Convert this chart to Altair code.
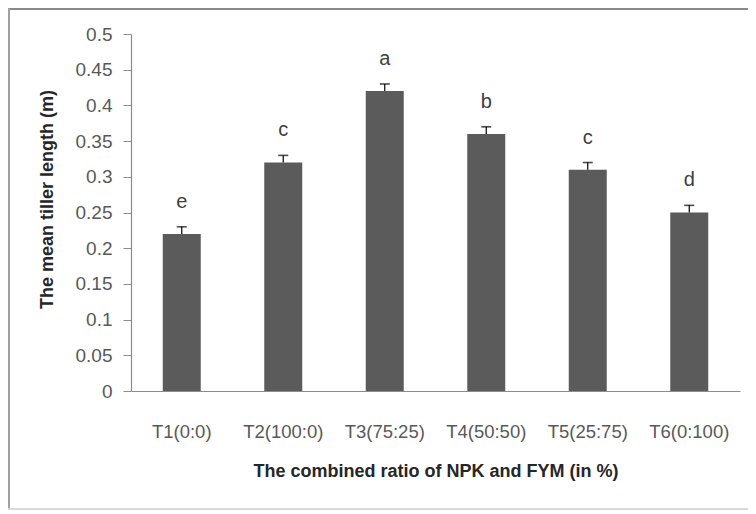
import altair as alt
import pandas as pd

categories = ["T1(0:0)", "T2(100:0)", "T3(75:25)", "T4(50:50)", "T5(25:75)", "T6(0:100)"]
values = [0.22, 0.32, 0.42, 0.36, 0.31, 0.25]
errors = [0.01, 0.01, 0.01, 0.01, 0.01, 0.01]
letters = ["e", "c", "a", "b", "c", "d"]
y_ticks = [0, 0.05, 0.1, 0.15, 0.2, 0.25, 0.3, 0.35, 0.4, 0.45, 0.5]

df = pd.DataFrame({"cat": categories, "val": values, "err": errors, "letter": letters})
df["upper"] = df["val"] + df["err"]

W, H = 609, 357
PL, PT, PR, PB = 123, 26, 8, 119
FONT = "Liberation Sans"

x_axis = alt.Axis(title="The combined ratio of NPK and FYM (in %)", ticks=False,
                  labelAngle=0, labelPadding=31, labelFontSize=18.5, labelColor="#595959",
                  labelFont=FONT, domainColor="#8c8c8c", domainWidth=1.2,
                  titleFont=FONT, titleFontSize=18, titleFontWeight="bold",
                  titleColor="#262626", titlePadding=22)
x_scale = alt.Scale(paddingInner=0.625, paddingOuter=0.3125)
y_axis = alt.Axis(title="The mean tiller length (m)", values=y_ticks,
                  format="~g", labelOverlap=False, labelFlush=False,
                  grid=False, tickSize=8, tickColor="#8c8c8c", domainColor="#8c8c8c",
                  domainWidth=1.2, labelPadding=11, labelFontSize=19, labelColor="#595959",
                  labelFont=FONT, titleFont=FONT, titleFontSize=18, titleFontWeight="bold",
                  titleColor="#262626", titleX=-84, titleY=165, titleBaseline="middle")
y_scale = alt.Scale(domain=[0, 0.5], nice=False)


def X():
    return alt.X("cat:N", sort=categories, scale=x_scale, axis=x_axis)


def Y(field):
    return alt.Y(field, type="quantitative", scale=y_scale, axis=y_axis)


bars = alt.Chart(df).mark_bar(color="#5b5b5b", size=38).encode(x=X(), y=Y("val"))

err_rule = alt.Chart(df).mark_rule(color="#000000", strokeWidth=1.2).encode(
    x=X(), y=Y("val"), y2="upper:Q"
)
err_cap = alt.Chart(df).mark_tick(color="#000000", size=10, thickness=1.6, orient="horizontal").encode(
    x=X(), y=Y("upper")
)
labels = alt.Chart(df).mark_text(font=FONT, fontSize=20, color="#404040", dy=-19,
                                 baseline="alphabetic").encode(
    x=X(), y=Y("upper"), text="letter:N"
)

frame_top = alt.Chart(df).mark_rule(color="#8a8a8a", strokeWidth=2, clip=False).encode(
    x=alt.value(-PL), x2=alt.value(W + PR), y=alt.value(-PT + 1)
)
frame_left = alt.Chart(df).mark_rule(color="#a0a0a0", strokeWidth=2, clip=False).encode(
    x=alt.value(-PL + 1), y=alt.value(-PT), y2=alt.value(H + PB)
)
frame_bottom = alt.Chart(df).mark_rule(color="#d8d8d8", strokeWidth=1, clip=False).encode(
    x=alt.value(-PL), x2=alt.value(W + PR), y=alt.value(H + PB - 1)
)

chart = alt.layer(bars, err_rule, err_cap, labels, frame_top, frame_left, frame_bottom).properties(
    width=W, height=H, padding={"left": PL, "top": PT, "right": PR, "bottom": PB},
    autosize=alt.AutoSizeParams(type="none"), background="white"
).configure_view(stroke=None)

chart.save("out.html", embed_options={"renderer": "svg", "actions": False})
